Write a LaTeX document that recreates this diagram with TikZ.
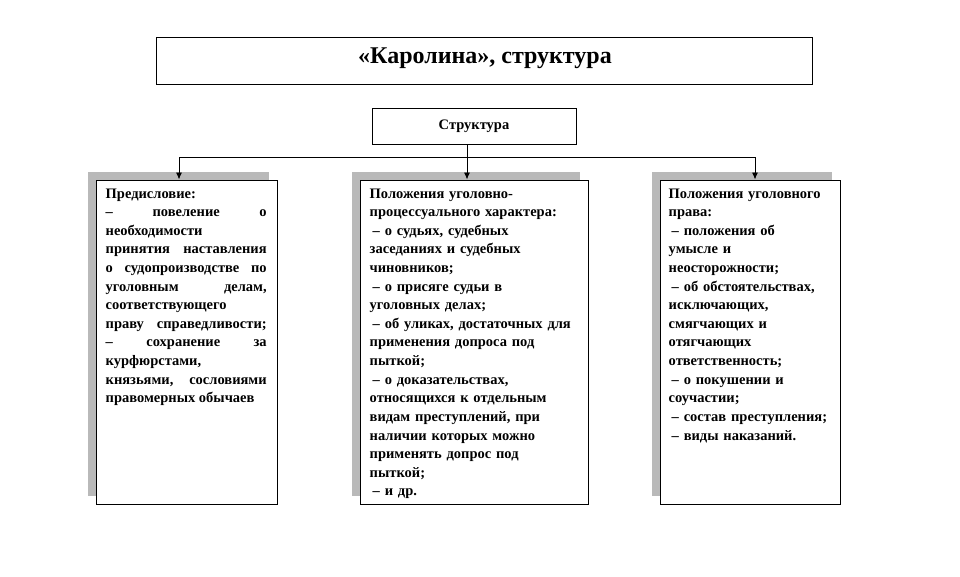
\documentclass[tikz,border=0pt]{standalone}
\usepackage{fontspec}
\setmainfont{Liberation Serif}
\usetikzlibrary{arrows.meta, positioning, shadows}

\begin{document}
\begin{tikzpicture}[x=1pt, y=-1pt,
  frame/.style={draw=black, line width=1pt, fill=white, inner sep=0pt},
  colbox/.style={frame, minimum height=324pt,
    drop shadow={shadow xshift=-8pt, shadow yshift=8pt, fill=gray!55, opacity=1}},
  coltext/.style={anchor=north west, inner sep=0pt, font=\fontsize{14.5}{18.6}\selectfont\bfseries},
  link/.style={line width=0.9pt, draw=black},
  tip/.style={-{Latex[length=7pt,width=6pt]}}
]

  \useasboundingbox (0,0) rectangle (960,576);

  % Title
  \node[frame, minimum width=656pt, minimum height=47pt] (title) at (484,60.5) {};
  \node[font=\fontsize{24}{28}\selectfont\bfseries] (titletext) at (485,58) {«Каролина», структура};

  % Structure
  \node[frame, minimum width=204pt, minimum height=36pt, font=\fontsize{14.5}{16}\selectfont\bfseries] (struct) at (474,126) {Структура};

  % Columns
  \node[colbox, minimum width=181pt] (pre) at (186.5,342) {};
  \node[colbox, minimum width=228pt] (proc) at (474,342) {};
  \node[colbox, minimum width=180pt] (crim) at (750,342) {};

  % Connectors
  \draw[link] ([xshift=-7pt]struct.south) -- ++(0,13) coordinate (hub);
  \draw[link, tip] (hub) -| ([xshift=-7.5pt]pre.north);
  \draw[link, tip] (hub) -- ([xshift=-7pt]proc.north);
  \draw[link, tip] (hub) -| ([xshift=5pt]crim.north);

  % Column texts
  \node[coltext, text width=161pt, align=justify] (pretext) at ([shift={(10,9)}]pre.north west) {%
    Предисловие:\linebreak
    – повеление о\linebreak
    необходимости\linebreak
    принятия наставления\linebreak
    о судопроизводстве по\linebreak
    уголовным делам,\linebreak
    соответствующего\linebreak
    праву справедливости;\linebreak
    – сохранение за\linebreak
    курфюрстами,\linebreak
    князьями, сословиями\linebreak
    правомерных обычаев};

  \node[coltext, text width=214pt, align=left] (proctext) at ([shift={(10,9)}]proc.north west) {%
    Положения уголовно-\\
    процессуального характера:\\
    \hspace*{3pt}– о судьях, судебных\\
    заседаниях и судебных\\
    чиновников;\\
    \hspace*{3pt}– о присяге судьи в\\
    уголовных делах;\\
    \hspace*{3pt}– об уликах, достаточных для\\
    применения допроса под\\
    пыткой;\\
    \hspace*{3pt}– о доказательствах,\\
    относящихся к отдельным\\
    видам преступлений, при\\
    наличии которых можно\\
    применять допрос под\\
    пыткой;\\
    \hspace*{3pt}– и др.};

  \node[coltext, text width=168pt, align=left] (crimtext) at ([shift={(9,9)}]crim.north west) {%
    Положения уголовного\\
    права:\\
    \hspace*{3pt}– положения об\\
    умысле и\\
    неосторожности;\\
    \hspace*{3pt}– об обстоятельствах,\\
    исключающих,\\
    смягчающих и\\
    отягчающих\\
    ответственность;\\
    \hspace*{3pt}– о покушении и\\
    соучастии;\\
    \hspace*{3pt}– состав преступления;\\
    \hspace*{3pt}– виды наказаний.};

\end{tikzpicture}
\end{document}
